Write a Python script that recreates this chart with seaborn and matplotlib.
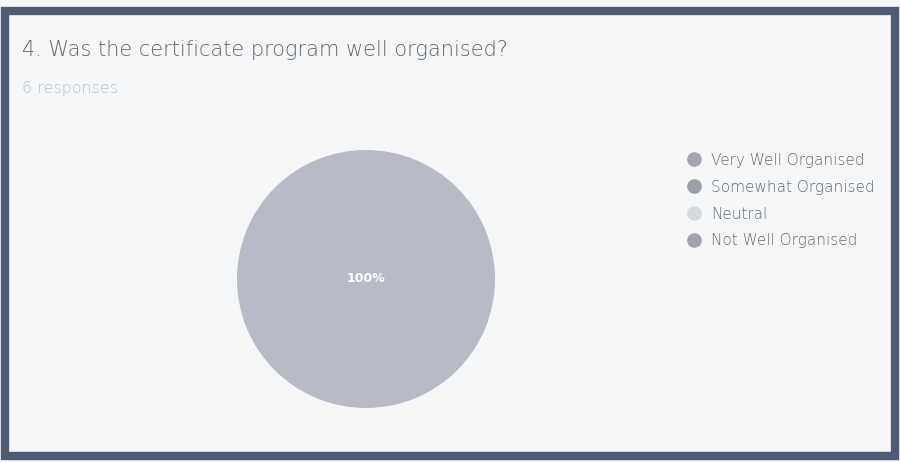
"""Pizza de respostas: o programa de certificado foi bem organizado?"""

import matplotlib
matplotlib.use('Agg')
import matplotlib.pyplot as plt
from matplotlib.lines import Line2D
from matplotlib.patches import Rectangle
import seaborn as sns

titulo = '4. Was the certificate program well organised?'
subtitulo = '6 responses'
categorias = ['Very Well Organised', 'Somewhat Organised', 'Neutral', 'Not Well Organised']
respostas = [6, 0, 0, 0]
cores = ['#b7bbc7', '#9ea3af', '#d6d8e1', '#a0a4ae']
cores_legenda = ['#a1a5b1', '#9a9faa', '#d8dae2', '#9fa3ad']

sns.set_theme(style='white')
plt.rcParams['font.family'] = ['DejaVu Sans']

fig = plt.figure(figsize=(9, 4.62), dpi=100)
fig.patch.set_facecolor('#f4f6f8')

# moldura escura da foto
fig.patches.append(Rectangle((0.006, 0.012), 0.988, 0.965, transform=fig.transFigure,
                             fill=False, edgecolor='#4f5a74', linewidth=6, zorder=10))

fig.text(22 / 900, 1 - 50 / 462, titulo, fontsize=15, color='#62666f',
         va='center', ha='left', fontweight='light')
fig.text(22 / 900, 1 - 88 / 462, subtitulo, fontsize=11.5, color='#bcc0c8',
         va='center', ha='left', fontweight='light')

ax = fig.add_axes([237 / 900, 54 / 462, 258 / 900, 258 / 462])


def rotulo(pct):
    return f'{pct:.0f}%' if pct > 0 else ''


wedges, _, autotexts = ax.pie(respostas, colors=cores, startangle=90, counterclock=False,
                              autopct=rotulo, pctdistance=0.0,
                              wedgeprops={'linewidth': 0})
for t in autotexts:
    t.set_color('white')
    t.set_fontsize(9)
    t.set_fontweight('bold')
ax.set_xlim(-1, 1)
ax.set_ylim(-1, 1)
ax.set_aspect('equal')
ax.axis('off')

handles = [Line2D([], [], marker='o', linestyle='', markersize=9.5,
                  markerfacecolor=c, markeredgecolor=c) for c in cores_legenda]
leg = fig.legend(handles, categorias, loc='upper left',
                 bbox_to_anchor=(674 / 900, 1 - 142 / 462), frameon=False,
                 fontsize=11, labelspacing=0.78, handletextpad=0.55, handlelength=1.2,
                 borderpad=0.2)
for t in leg.get_texts():
    t.set_color('#666a75')
    t.set_fontweight('light')

fig.savefig('out.png', dpi=100, facecolor=fig.get_facecolor())
